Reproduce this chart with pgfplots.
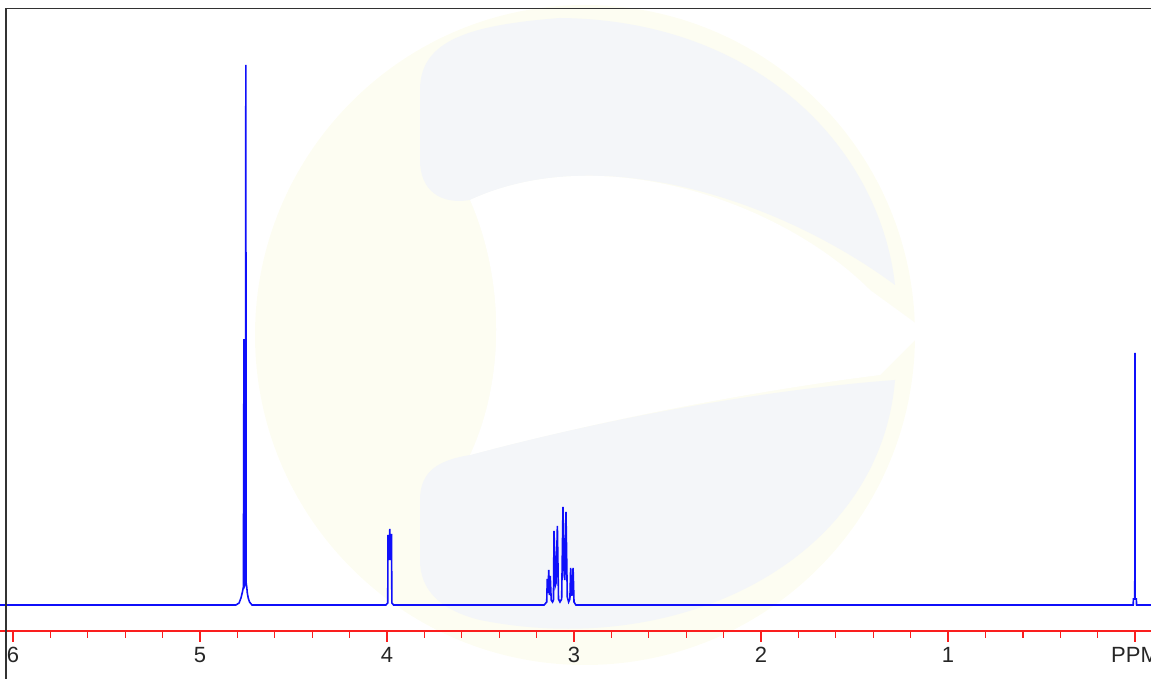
\documentclass[border=0pt]{standalone}
\usepackage{pgfplots}
\pgfplotsset{compat=1.18}
\usepackage{fontspec}
\setmainfont{Liberation Sans}
\definecolor{specblue}{RGB}{15,15,250}
\definecolor{scalered}{RGB}{250,30,30}
\definecolor{framegray}{RGB}{50,50,50}
\definecolor{wmyellow}{RGB}{253,253,242}
\definecolor{wmgray}{RGB}{244,246,249}
\begin{document}
\begin{tikzpicture}
% faint watermark in pixel coordinates (y downwards from top)
\begin{scope}[x=1pt, y=-1pt, shift={(0pt,631pt)}]
\fill[wmyellow] (585,335) circle (330);
\fill[wmgray] (420,90) .. controls (420,40) and (470,25) .. (560,18)
  .. controls (760,20) and (880,150) .. (895,285)
  .. controls (780,200) and (600,140) .. (470,200)
  .. controls (440,205) and (420,190) .. (420,160) -- cycle;
\fill[wmgray] (895,380) .. controls (880,560) and (680,660) .. (480,620)
  .. controls (440,610) and (420,590) .. (420,560)
  -- (420,500) .. controls (420,470) and (440,460) .. (470,455)
  .. controls (600,420) and (760,390) .. (895,380) -- cycle;
\fill[white] (470,200) .. controls (600,140) and (780,200) .. (870,290)
  -- (925,330) -- (880,375) .. controls (760,390) and (600,420) .. (470,455)
  .. controls (505,380) and (505,280) .. (470,200) -- cycle;
\end{scope}
\begin{axis}[
  at={(0pt,0pt)}, anchor=south west,
  scale only axis,
  width=1151pt, height=631pt,
  x dir=reverse,
  xmin=-0.0856, xmax=6.0695,
  ymin=-26, ymax=605,
  axis x line*=bottom,
  axis y line=none,
  x axis line style={scalered, line width=1.3pt},
  xtick={0,1,2,3,4,5,6},
  xticklabels={PPM,1,2,3,4,5,6},
  minor x tick num=4,
  tick align=outside,
  major tick length=11pt,
  minor tick length=7pt,
  every tick/.style={scalered, line width=1.3pt},
  every minor tick/.style={scalered, line width=1.3pt},
  xticklabel style={font=\fontsize{22}{26}\selectfont, text=black!85, anchor=north, inner sep=0pt, yshift=-5pt},
  clip=false,
]
\addplot[specblue, line width=1.6pt] coordinates {
(6.0695,0) (4.808,0) (4.791,2) (4.781,7) (4.773,13) (4.768,18)
(4.765,265) (4.762,265) (4.760,20) (4.756,22) (4.755,540) (4.753,22)
(4.750,18) (4.747,12) (4.742,7) (4.735,3) (4.722,0)
(4.006,0) (3.996,2) (3.995,70) (3.990,45) (3.985,76) (3.981,45) (3.976,71) (3.974,2) (3.965,0)
(3.160,0) (3.146,3) (3.143,26) (3.140,12) (3.135,35) (3.131,10) (3.127,29) (3.122,5)
(3.115,3) (3.110,5) (3.107,74) (3.099,20) (3.096,22) (3.089,79) (3.083,6) (3.075,3)
(3.066,6) (3.059,98) (3.053,30) (3.049,25) (3.043,93) (3.036,8) (3.029,3) (3.022,6)
(3.018,37) (3.013,10) (3.011,10) (3.005,37) (3.000,3) (2.990,0)
(0.010,0) (0.009,6) (0.0015,6) (0.0005,252) (-0.0005,6) (-0.007,6) (-0.008,0) (-0.0856,0)
};
\end{axis}
\draw[framegray, line width=1.6pt] (6pt,-48pt) -- (6pt,622.5pt) -- (1152pt,622.5pt);
\pgfresetboundingbox
\path[use as bounding box] (0pt,-48pt) rectangle (1151pt,631pt);
\end{tikzpicture}
\end{document}
